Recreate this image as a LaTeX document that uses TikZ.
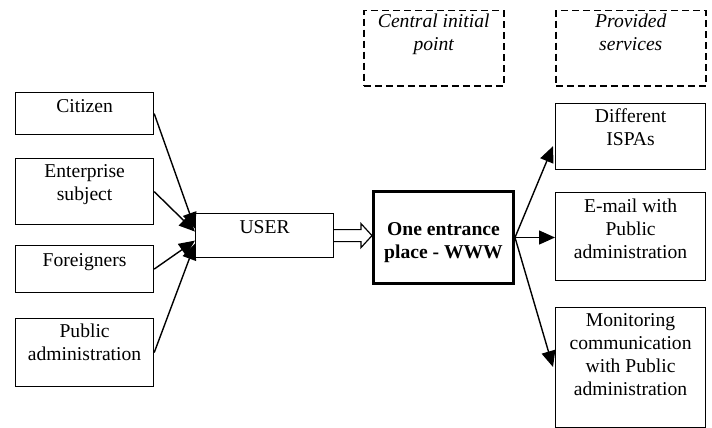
\documentclass[tikz,border=0pt]{standalone}
\usepackage{fontspec}
\setmainfont{Liberation Serif}
\usetikzlibrary{arrows.meta,calc}
\begin{document}
\begin{tikzpicture}[x=1pt,y=-1pt,
  fnt/.style={font=\fontsize{19.6}{23}\selectfont},
  box/.style={draw, line width=1.2pt, inner sep=0pt, anchor=north west},
  thickbox/.style={box, line width=3pt},
  dashbox/.style={box, line width=1.5pt, dash pattern=on 7pt off 4pt},
  lbl/.style={fnt, align=center, inner sep=0pt, anchor=north},
  con/.style={line width=1.4pt, -{Triangle[length=16pt,width=14pt]}},
  hollow/.style={draw, line width=1.2pt, fill=white, line join=miter}
  ]
\useasboundingbox (0,0) rectangle (712,428);

% left boxes
\node[box, minimum width=138pt, minimum height=42pt] (cit) at (15,92) {};
\node[lbl] at ($(cit.north)+(0,7)$) {Citizen};
\node[box, minimum width=138pt, minimum height=66pt] (ent) at (15,158) {};
\node[lbl] at ($(ent.north)+(0,6)$) {Enterprise\\subject};
\node[box, minimum width=138pt, minimum height=47pt] (for) at (15,245) {};
\node[lbl] at ($(for.north)+(0,8)$) {Foreigners};
\node[box, minimum width=138pt, minimum height=68pt] (pub) at (15,318) {};
\node[lbl] at ($(pub.north)+(0,5.6)$) {Public\\administration};

% user
\node[box, minimum width=138pt, minimum height=44pt] (user) at (195,213) {};
\node[lbl] at ($(user.north)+(0,7)$) {USER};

% central
\node[thickbox, minimum width=140pt, minimum height=92pt] (cen) at (372,190) {};
\node[lbl, font=\fontsize{19.6}{23}\selectfont\bfseries] at ($(cen.north)+(0,32)$) {One entrance\\place - WWW};

% dashed headers
\node[dashbox, minimum width=140pt, minimum height=75pt] (hcen) at (363,10) {};
\node[lbl, font=\fontsize{19.6}{23}\selectfont\itshape] at ($(hcen.north)+(0,3.8)$) {Central initial\\point};
\node[dashbox, minimum width=150pt, minimum height=75pt] (hser) at (555,10) {};
\node[lbl, font=\fontsize{19.6}{23}\selectfont\itshape] at ($(hser.north)+(0,3.8)$) {Provided\\services};

% right boxes
\node[box, minimum width=150pt, minimum height=66pt] (isp) at (555,103) {};
\node[lbl] at ($(isp.north)+(0,5.6)$) {Different\\ISPAs};
\node[box, minimum width=150pt, minimum height=88pt] (eml) at (555,192) {};
\node[lbl] at ($(eml.north)+(0,6.6)$) {E-mail with\\Public\\administration};
\node[box, minimum width=150pt, minimum height=120pt] (mon) at (555,307) {};
\node[lbl] at ($(mon.north)+(0,6.6)$) {Monitoring\\communication\\with Public\\administration};

% left connectors
\draw[con] (cit.east) -- ($(user.west)+(0,-7)$);
\draw[con] (ent.east) -- ($(user.west)+(0,-4)$);
\draw[con] (for.east) -- ($(user.west)+(0,5)$);
\draw[con] (pub.east) -- ($(user.west)+(0,8)$);

% hollow arrow
\coordinate (ha) at (user.east);
\coordinate (hb) at (cen.west |- user.east);
\path[hollow] ($(ha)+(0,-6)$) -- ($(hb)+(-11,-6)$) -- ($(hb)+(-11,-12)$) -- (hb)
  -- ($(hb)+(-11,12)$) -- ($(hb)+(-11,6)$) -- ($(ha)+(0,6)$);

% right connectors
\draw[con] (cen.east) -- ($(isp.south west)+(-2,-24)$);
\draw[con] (cen.east) -- (cen.east -| eml.west);
\draw[con] (cen.east) -- ($(mon.north west)+(-2,60)$);
\end{tikzpicture}
\end{document}
